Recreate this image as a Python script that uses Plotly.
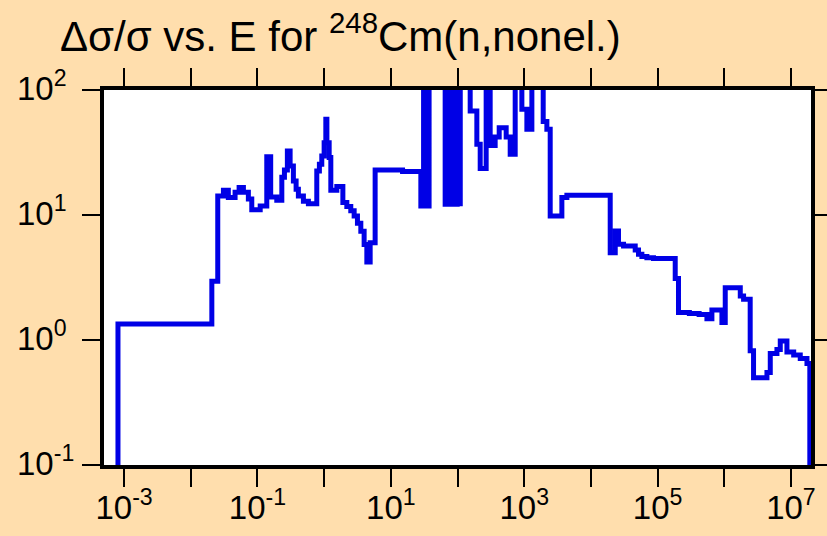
import math
import plotly.graph_objects as go

# Bin lower edges (energy, eV) and relative uncertainty (%)
energy = [8.1e-4, 8.1e-4, 0.0207, 0.0254, 0.0309, 0.0366, 0.0462, 0.0531, 0.0616, 0.0731,
          0.0822, 0.110, 0.138, 0.158, 0.195, 0.232, 0.254, 0.281, 0.309, 0.346,
          0.380, 0.411, 0.489, 0.581, 0.776, 0.849, 0.922, 1.00, 1.06, 1.10,
          1.19, 1.26, 1.55, 1.91, 2.19, 2.51, 2.82, 3.16, 3.55, 3.98,
          4.37, 4.90, 5.82, 15.0, 28.2, 31.0, 34.0, 37.5, 65.3, 71.0,
          77.0, 84.0, 91.0, 99.0, 106.0, 110.0, 155.0, 195.0, 219.0, 269.0,
          309.0, 367.0, 422.0, 537.0, 617.0, 733.0, 923.0, 1097.0, 1304.0, 1928.0,
          2188.0, 2455.0, 3673.0, 4367.0, 19500.0, 23200.0, 25950.0, 30900.0, 46250.0, 51800.0,
          58200.0, 69200.0, 86900.0, 184000.0, 206000.0, 300000.0, 420000.0, 550000.0, 653000.0, 923000.0,
          1.035e6, 1.74e6, 1.95e6, 2.45e6, 2.75e6, 4.37e6, 4.90e6, 6.17e6, 6.92e6, 8.71e6,
          1.10e7, 1.38e7, 1.74e7, 1.92e7]
uncert = [0.01, 1.34, 2.95, 14.2, 15.8, 13.8, 15.2, 16.6, 15.2, 13.4,
          11.0, 11.8, 29.3, 13.9, 13.1, 20.0, 22.9, 32.5, 24.7, 18.7,
          16.1, 14.2, 12.9, 12.3, 22.5, 25.5, 29.6, 37.9, 58.3, 37.9,
          28.8, 15.8, 16.9, 12.6, 11.7, 10.8, 9.8, 8.6, 7.4, 5.8,
          4.2, 6.0, 22.9, 22.3, 11.8, 200.0, 11.8, 200.0, 12.2, 200.0,
          12.2, 200.0, 12.2, 200.0, 12.3, 200.0, 68.0, 36.8, 23.5, 200.0,
          36.0, 42.0, 50.0, 42.0, 30.6, 200.0, 70.0, 48.5, 200.0, 56.0,
          48.5, 9.8, 13.8, 14.4, 5.0, 7.45, 5.84, 5.65, 5.25, 4.86,
          4.65, 4.56, 4.48, 3.1, 1.66, 1.63, 1.6, 1.48, 1.74, 1.38,
          2.62, 2.25, 2.12, 0.82, 0.50, 0.55, 0.78, 0.84, 0.98, 0.80,
          0.76, 0.71, 0.65, 0.01]

x_tickvals = [1e-3, 1e-2, 1e-1, 1e0, 1e1, 1e2, 1e3, 1e4, 1e5, 1e6, 1e7]
x_ticktext = ["10<sup>-3</sup>", "", "10<sup>-1</sup>", "", "10<sup>1</sup>", "",
              "10<sup>3</sup>", "", "10<sup>5</sup>", "", "10<sup>7</sup>"]
y_tickvals = [0.1, 1, 10, 100]
y_ticktext = ["10<sup>-1</sup>", "10<sup>0</sup>", "10<sup>1</sup>", "10<sup>2</sup>"]

title_text = "\u0394\u03c3/\u03c3 vs. E for <sup>248</sup>Cm(n,nonel.)"

FONT = "Arial, Liberation Sans, sans-serif"
W, H = 827, 536
ML, MR, MT, MB = 104, 16, 90, 71

fig = go.Figure()
fig.add_trace(go.Scatter(x=energy, y=uncert, mode="lines", line_shape="hv",
                         line=dict(color="#0000E6", width=5), showlegend=False))

axis_common = dict(showline=True, linecolor="black", linewidth=4, mirror="allticks",
                   ticks="outside", ticklen=18, tickwidth=2, tickcolor="black",
                   showgrid=False, zeroline=False, automargin=False,
                   tickfont=dict(family=FONT, size=33, color="black"))

fig.update_xaxes(type="log", range=[-3.301, 7.301], tickmode="array",
                 tickvals=x_tickvals, ticktext=x_ticktext, ticklabelstandoff=-8,
                 **axis_common)
# y tick labels are left-aligned in the reference, so they are drawn as annotations
fig.update_yaxes(type="log", range=[-1, 2], tickmode="array",
                 tickvals=y_tickvals, ticktext=[""] * len(y_tickvals),
                 **axis_common)

for v, t in zip(y_tickvals, y_ticktext):
    fig.add_annotation(text=t, xref="paper", yref="y", x=(15 - ML) / (W - ML - MR),
                       y=math.log10(v), xanchor="left", yanchor="middle", yshift=4,
                       showarrow=False, font=dict(family=FONT, size=33, color="black"))

fig.update_layout(
    width=W, height=H,
    margin=dict(l=ML, r=MR, t=MT, b=MB),
    paper_bgcolor="#FFDEAD", plot_bgcolor="white",
    title=dict(text=title_text, x=60/827, xanchor="left", xref="container",
               y=1-36/536, yanchor="middle", yref="container", automargin=False,
               font=dict(family=FONT, size=42, color="black")),
)

fig.write_html("out.html", config={"displayModeBar": False},
               post_script="document.body.style.margin='0';document.body.style.overflow='hidden';")
